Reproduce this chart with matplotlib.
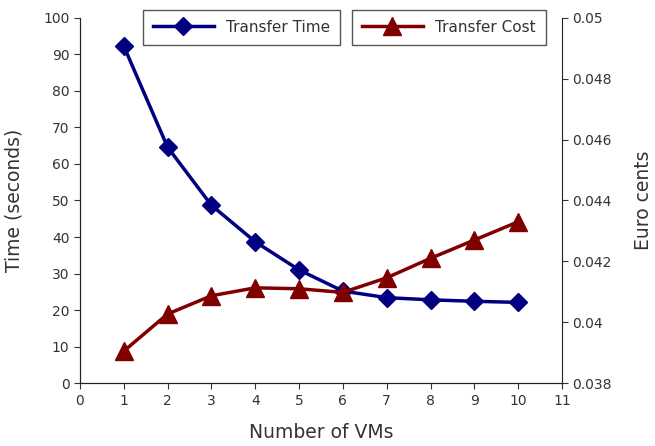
import numpy as np
import matplotlib
matplotlib.use('Agg')
import matplotlib.pyplot as plt

vms = [1, 2, 3, 4, 5, 6, 7, 8, 9, 10]
transfer_time = [92.3, 64.6, 48.7, 38.7, 31.0, 25.2, 23.4, 22.8, 22.4, 22.1]
transfer_cost = [0.03905, 0.04027, 0.04087, 0.04113, 0.04110, 0.04098, 0.04146, 0.04210, 0.04270, 0.04330]

txt = '#333333'
fig = plt.figure(figsize=(6.55, 4.46), dpi=100)
ax1 = fig.add_axes([0.122, 0.141, 0.736, 0.819])
ax2 = ax1.twinx()

l1, = ax1.plot(vms, transfer_time, color='#000080', linewidth=2.5, marker='D',
               markersize=9, label='Transfer Time')
l2, = ax2.plot(vms, transfer_cost, color='#800000', linewidth=2.5, marker='^',
               markersize=13, label='Transfer Cost')

ax1.set_xlim(0, 11)
ax1.set_ylim(0, 100)
ax1.set_xticks(np.arange(0, 12, 1))
ax1.set_yticks(np.arange(0, 101, 10))
ax2.set_ylim(0.038, 0.05)
ax2.set_yticks([0.038, 0.04, 0.042, 0.044, 0.046, 0.048, 0.05])
ax2.set_yticklabels(['0.038', '0.04', '0.042', '0.044', '0.046', '0.048', '0.05'])

for ax in (ax1, ax2):
    ax.spines['top'].set_visible(False)
    ax.tick_params(labelsize=10, colors=txt, direction='out', length=4)
    for s in ax.spines.values():
        s.set_color('#222222')
ax1.spines['right'].set_visible(False)

ax1.set_xlabel('Number of VMs', fontsize=13.5, color=txt, labelpad=11)
ax1.set_ylabel('Time (seconds)', fontsize=13.5, color=txt, labelpad=14)
ax2.set_ylabel('Euro cents', fontsize=13.5, color=txt, labelpad=16)

leg1 = fig.legend(handles=[l1], loc='upper left', bbox_to_anchor=(0.218, 0.978),
                  fancybox=False, edgecolor='#555555', fontsize=11, framealpha=1,
                  handlelength=4, borderpad=0.65, borderaxespad=0)
leg2 = fig.legend(handles=[l2], loc='upper left', bbox_to_anchor=(0.537, 0.978),
                  fancybox=False, edgecolor='#555555', fontsize=11, framealpha=1,
                  handlelength=4, borderpad=0.65, borderaxespad=0)
for t in leg1.get_texts() + leg2.get_texts():
    t.set_color(txt)

plt.savefig('out.png', dpi=100)
